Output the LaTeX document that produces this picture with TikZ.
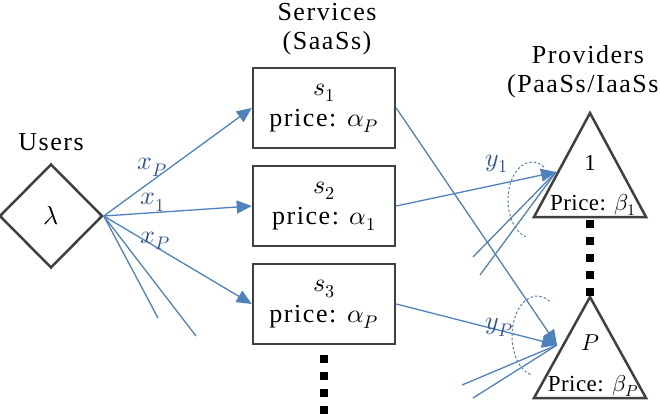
\documentclass[tikz,border=0pt]{standalone}
\usepackage{fontspec}
\usepackage{unicode-math}
\setmainfont{Liberation Serif}
\setmathfont{Latin Modern Math}
\definecolor{flowblue}{RGB}{79,129,189}
\definecolor{labelblue}{RGB}{47,85,151}
\definecolor{edgegray}{RGB}{64,64,64}
\usetikzlibrary{arrows.meta,positioning,shapes.geometric,calc}

\begin{document}
\begin{tikzpicture}[
  x=1pt,y=-1pt,
  every node/.style={font=\fontsize{26}{29}\selectfont\addfontfeatures{LetterSpace=6}},
  svcbox/.style={draw=edgegray,line width=2.5pt,minimum width=142pt,minimum height=80pt,
        inner sep=0pt,align=center,font=\fontsize{26}{31}\selectfont\addfontfeatures{LetterSpace=6}},
  provlbl/.style={font=\fontsize{23}{26}\selectfont\addfontfeatures{LetterSpace=2}},
  provtri/.style={draw=edgegray,line width=2.5pt},
  flow/.style={flowblue,line width=1.3pt},
  flowarr/.style={flow,-{Triangle[length=15pt,width=13pt]}},
  flowlbl/.style={text=labelblue},
  vdots/.style={line width=8pt,dash pattern=on 8pt off 9pt},
  aggr/.style={flowblue,line width=1pt,dash pattern=on 2.5pt off 2pt},
]
  \useasboundingbox (0,0) rectangle (660,414);
  % Users
  \node (users) at (51,142) {Users};
  \node[diamond,draw=edgegray,line width=2.5pt,minimum width=103pt,minimum height=104pt,
        inner sep=0pt] (lam) at (51,216) {$\lambda$};
  % Services (SaaSs)
  \node[align=center] (svctitle) at (327,29) {Services\\(SaaSs)};
  \node[svcbox] (s1) at (324,108) {$s_1$\\price: $\alpha_P$};
  \node[svcbox] (s2) at (324,206) {$s_2$\\price: $\alpha_1$};
  \node[svcbox] (s3) at (324,304) {$s_3$\\price: $\alpha_P$};
  \coordinate (s3end) at (324,418);
  \draw[vdots] ([yshift=-10pt]s3.south) -- (s3end);
  % Providers (PaaSs/IaaSs)
  \node[align=center] (provtitle) at (588,72) {Providers\\(PaaSs/IaaSs)};
  \coordinate (t1) at (590,113);
  \coordinate (t1b) at (590,217);
  \coordinate (tP) at (590,297);
  \draw[provtri] (t1) -- ++(-56,104) -- ++(112,0) -- cycle;
  \draw[provtri] (tP) -- ++(-56,101) -- ++(112,0) -- cycle;
  \node[provlbl] (p1num) at (590,163) {1};
  \node[provlbl] (p1price) at (593,205) {Price: $\beta_1$};
  \node[provlbl] (pPnum) at (590,343) {$P$};
  \node[provlbl] (pPprice) at (593,386) {Price: $\beta_P$};
  \draw[vdots] ([yshift=-3pt]t1b) -- (tP);
  \coordinate (in1) at (556,172);
  \coordinate (inP) at (557,345);
  % users -> services
  \draw[flowarr] (lam.east) -- node[flowlbl,pos=0.33,above] {$x_P$} (s1.west);
  \draw[flowarr] (lam.east) -- node[flowlbl,pos=0.33,above,inner sep=1pt] {$x_1$} (s2.west);
  \draw[flowarr] (lam.east) -- node[flowlbl,pos=0.35,yshift=6pt] {$x_P$} (s3.west);
  \coordinate (u1) at (158,318);
  \coordinate (u2) at (196,336);
  \draw[flow] (lam.east) -- (u1);
  \draw[flow] (lam.east) -- (u2);
  % services -> providers
  \draw[flowarr] (s2.east) -- node[flowlbl,pos=0.63,above,yshift=8pt] {$y_1$} (in1);
  \draw[flowarr] (s1.east) -- (inP);
  \draw[flowarr] (s3.east) -- node[flowlbl,pos=0.64,yshift=3pt] {$y_P$} (inP);
  \coordinate (a1) at (473,257);
  \coordinate (a2) at (480,275);
  \draw[flow] (in1) -- (a1);
  \draw[flow] (in1) -- (a2);
  \coordinate (b1) at (462,385);
  \coordinate (b2) at (473,398);
  \draw[flow] (inP) -- (b1);
  \draw[flow] (inP) -- (b2);
  % aggregation marks
  \draw[aggr] (532,200) ++(-60:24 and 38) arc[start angle=-60,end angle=-255,x radius=24,y radius=38];
  \draw[aggr] (537,336) ++(-60:25 and 40) arc[start angle=-60,end angle=-255,x radius=25,y radius=40];
\end{tikzpicture}
\end{document}
